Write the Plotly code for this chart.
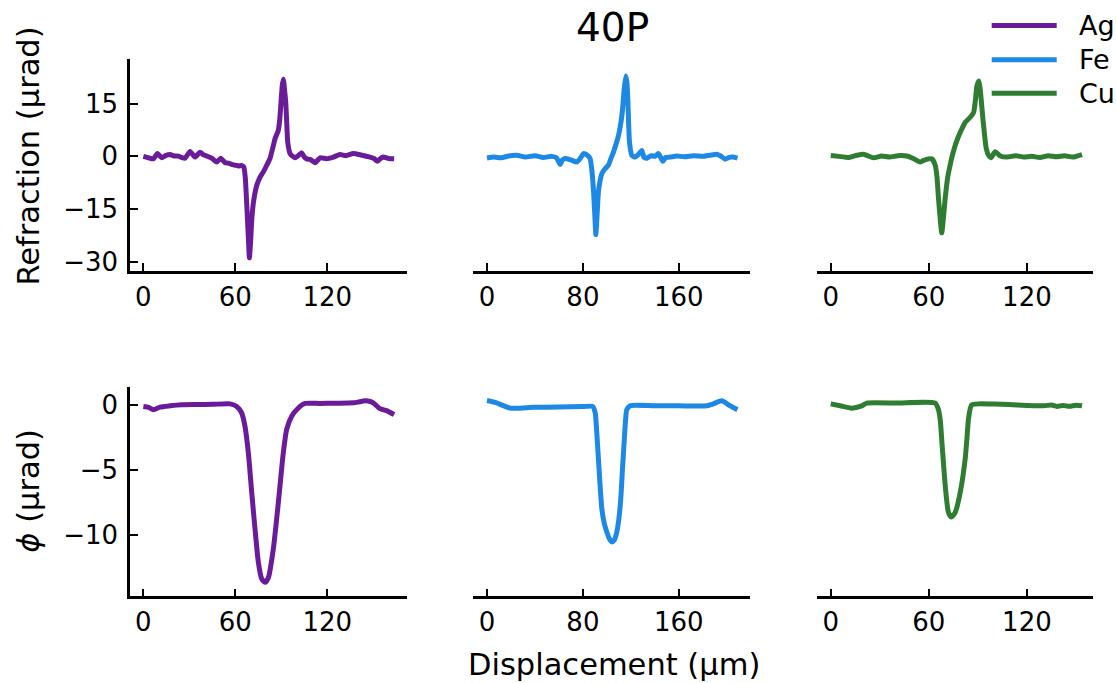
import plotly.graph_objects as go
from plotly.subplots import make_subplots

# ---------------- data ----------------
metals = ["Ag", "Fe", "Cu"]
colors = ["#6A1B9A", "#1E88E5", "#2E7D32"]

# Refraction (top row)
ag_ref_x = [0, 3.4, 6.6, 9.2, 12, 14.5, 17.4, 20, 22.9, 25, 27.2, 30.5, 33.7, 37, 39, 41.3, 44.6, 47.8, 50.5, 53.3,
            55.5, 57.6, 60, 62, 64, 65.5, 66.5, 67.5, 68.5, 69.2, 70, 70.8, 72, 74, 76, 78.3, 80.5, 82.6, 84.5, 85.9,
            88, 89, 89.8, 90.6, 91.3, 92.1, 92.9, 93.6, 94.2, 95.7, 97.5, 99, 101, 103.3, 105, 106.6, 109, 112, 115.3,
            119.6, 124, 128.3, 132, 137, 142, 147.9, 150.5, 152.7, 155, 156.6, 160, 163.6]
ag_ref_y = [0, -0.4, -0.7, 0.8, -0.4, 0.2, 0.5, 0.1, 0.06, -0.3, -0.5, 1.4, -0.2, 1.2, 0.5, 0.1, -0.5, -1.6, -0.5, -1.8,
            -1.9, -2.3, -2.5, -2.7, -2.6, -3.0, -6, -14, -23, -28.8, -24, -17.5, -12.5, -8.2, -6.0, -4.4, -2.5, -0.66, 2.5, 5.0,
            7.3, 10.5, 15.3, 20, 21.9, 19, 15.3, 9, 4, 0.8, 0, -0.4, 0.2, 1.0, -0.2, -0.7, -0.9, -1.8, -0.4,
            -0.66, -0.2, 0.5, 0.2, 0.8, 0.4, -0.2, -0.6, -1.4, -0.5, -0.2, -0.6, -0.7]

fe_ref_x = [0, 6, 12, 18, 25, 32, 40, 47, 54, 58, 61, 63, 65.3, 70, 75, 78, 80.5, 83, 86, 87.5, 88.9, 90, 90.8, 91.8,
            93, 94.3, 95.8, 98.5, 101.3, 103.5, 105.5, 107.5, 109.7, 111.2, 112.5, 113.5, 114.4, 115.8, 116.7, 117.5,
            118.2, 118.9, 120.8, 123.6, 126.5, 129.2, 131, 133.3, 137, 140, 143, 146.7, 149, 152.8, 158, 165, 172,
            180, 186, 191.7, 195, 198.6, 202, 205, 209]
fe_ref_y = [-0.46, -0.2, -0.4, 0.1, 0.3, -0.2, 0.2, -0.3, 0.0, -0.4, -2.3, -1.0, -0.6, -1.0, -1.6, -0.5, 0.8, 0.5, -0.6,
            -4, -10, -17, -22.2, -17, -10, -7, -4.9, -3.5, -2.5, -0.5, 1.2, 3.3, 5.9, 8.5, 11.5, 15, 19, 22.8, 21, 16.2,
            9, 4, 0.3, -0.2, 0.6, 1.7, -0.3, -0.5, 0.2, 0.0, 0.8, -1.4, -0.3, -0.2, 0.1, -0.1, 0.2,
            0.0, 0.3, 0.6, 0.1, -0.8, -0.3, -0.2, -0.5]

cu_ref_x = [0, 5, 10.8, 15, 20, 26.1, 31, 36, 41, 46.5, 50.5, 54.7, 58, 61.8, 63.9, 65, 65.9, 67, 67.9, 69, 70, 71.5,
            73, 74.5, 76.1, 78, 80.2, 82.5, 85.3, 87.4, 88.5, 89.4, 90.6, 91.3, 92, 93, 93.9, 95, 96.5, 98, 100.6,
            103.7, 108, 113, 118, 123, 128, 133, 138, 143, 148, 153.7]
cu_ref_y = [0.28, 0.0, -0.3, 0.2, 0.6, -0.4, 0.1, -0.2, 0.2, 0.1, -0.6, -1.6, -0.9, -0.7, -2.5, -6, -11.9, -18, -21.7,
            -17, -11.9, -6, -2.5, 0.5, 3.1, 5.5, 7.8, 9.8, 11.1, 12.5, 16, 20, 21.4, 19.5, 16.2, 11, 6.9, 2.5, 0.3,
            -0.4, 1.3, 0.1, -0.2, 0.2, -0.2, 0.0, -0.3, 0.2, -0.1, 0.2, -0.2, 0.5]

# Phase (bottom row)
ag_phi_x = [0, 3.5, 6.6, 10.9, 17.4, 25, 35, 45, 56.6, 60.9, 64.2, 66.3, 68.5, 70.7, 72.8, 75, 77.2, 79.4, 81.6, 84.8,
            88.1, 91.3, 93.5, 96.7, 101.1, 105.4, 115, 125, 137, 140, 144.6, 148, 150, 154.3, 158.7, 163.6]
ag_phi_y = [-0.13, -0.2, -0.38, -0.18, -0.08, 0, 0.02, 0.03, 0.07, -0.13, -0.64, -1.66, -3.7, -6.75, -9.5, -12.1,
            -13.4, -13.67, -13.3, -11.1, -7.5, -3.7, -1.9, -0.9, -0.25, 0.1, 0.1, 0.12, 0.15, 0.2, 0.3, 0.25, 0.15,
            -0.3, -0.45, -0.76]

fe_phi_x = [0, 6.9, 19.4, 38.9, 60, 80, 88.3, 90.3, 91.5, 93, 95.8, 98, 100, 102, 104.2, 106.3, 108.3, 110, 111.6,
            113, 114.4, 115.6, 116.6, 119.4, 140, 160, 183.3, 188.9, 195.8, 202.8, 208.9]
fe_phi_y = [0.33, 0.18, -0.26, -0.2, -0.17, -0.14, -0.13, -0.64, -2.0, -4.2, -8.0, -9.2, -9.8, -10.3, -10.56, -10.4,
            -9.8, -8.8, -7.25, -5.0, -2.9, -1.2, -0.38, -0.08, -0.08, -0.08, -0.08, 0.07, 0.3, -0.08, -0.38]

cu_phi_x = [0, 5.7, 12.8, 19, 22, 40, 63.9, 65.9, 67, 68, 69, 70, 72, 73.7, 76.1, 79.2, 82.2, 83.3, 84.3, 86.3, 100,
            130.2, 135, 138.3, 142, 146, 150, 153.7]
cu_phi_y = [0.07, -0.08, -0.26, -0.08, 0.13, 0.13, 0.13, -0.38, -1.2, -2.9, -4.6, -6.2, -8.3, -8.65, -8.3, -6.75,
            -4.2, -2.6, -1.05, 0.0, 0.05, -0.08, -0.02, -0.13, -0.05, -0.12, -0.03, -0.08]

ref_series = [(ag_ref_x, ag_ref_y), (fe_ref_x, fe_ref_y), (cu_ref_x, cu_ref_y)]
phi_series = [(ag_phi_x, ag_phi_y), (fe_phi_x, fe_phi_y), (cu_phi_x, cu_phi_y)]
for sx, sy in ref_series + phi_series:
    assert len(sx) == len(sy), (len(sx), len(sy))

x_tickvals = [[0, 60, 120], [0, 80, 160], [0, 60, 120]]
x_ranges = [[-8.7, 171.8], [-11.4, 219.4], [-8.6, 160.6]]
ref_ticks = [-30, -15, 0, 15]
phi_ticks = [-10, -5, 0]
ref_range = [-32.5, 27.5]
phi_range = [-14.76, 1.4]

title_text = "40P"
ref_label = "Refraction (μrad)"
phi_label = "<i>ϕ</i> (μrad)"
x_label = "Displacement (μm)"

# ---------------- figure ----------------
W, H = 1116, 683
FONT = "DejaVu Sans"
LW = 5
fig = make_subplots(rows=2, cols=3)

for c in range(3):
    fig.add_trace(go.Scatter(x=ref_series[c][0], y=ref_series[c][1], mode="lines",
                             line=dict(color=colors[c], width=LW, shape="spline", smoothing=0.5),
                             name=metals[c], showlegend=False),
                  row=1, col=c + 1)
    fig.add_trace(go.Scatter(x=phi_series[c][0], y=phi_series[c][1], mode="lines",
                             line=dict(color=colors[c], width=LW, shape="spline", smoothing=0.6),
                             name=metals[c], showlegend=False),
                  row=2, col=c + 1)

px_x = [(130, 406.7), (473.3, 750), (816.7, 1093.3)]
px_y = [(60, 273.3), (390, 601.7)]

axis_common = dict(showline=True, linecolor="black", linewidth=2.5, ticks="inside", ticklen=8,
                   tickwidth=2, tickcolor="black", showgrid=False, zeroline=False,
                   tickfont=dict(family=FONT, size=26, color="black"))

for r in range(2):
    for c in range(3):
        dx = [px_x[c][0] / W, px_x[c][1] / W]
        dy = [1 - px_y[r][1] / H, 1 - px_y[r][0] / H]
        fig.update_xaxes(domain=dx, range=x_ranges[c], tickvals=x_tickvals[c], ticklabelstandoff=1,
                         **axis_common, row=r + 1, col=c + 1)
        yr = ref_range if r == 0 else phi_range
        yt = ref_ticks if r == 0 else phi_ticks
        if c == 0:
            fig.update_yaxes(domain=dy, range=yr, tickvals=yt, ticklabelstandoff=4,
                             **axis_common, row=r + 1, col=c + 1)
        else:
            fig.update_yaxes(domain=dy, range=yr, visible=False, row=r + 1, col=c + 1)

annos = [
    dict(text=title_text, x=612.5 / W, y=1 - 28 / H, font=dict(size=39)),
    dict(text=ref_label, x=29 / W, y=1 - 158 / H, textangle=-90, font=dict(size=30.5)),
    dict(text=phi_label, x=29 / W, y=1 - 495 / H, textangle=-90, font=dict(size=30.5)),
    dict(text=x_label, x=614 / W, y=1 - 670 / H, font=dict(size=30.5)),
]
for a in annos:
    a.update(xref="paper", yref="paper", showarrow=False, xanchor="center", yanchor="middle")
    a["font"].update(family=FONT, color="black")
    fig.add_annotation(**a)

# legend (drawn manually to match matplotlib-style long handles)
leg_y = [25.7, 60.3, 94]
for i, m in enumerate(metals):
    yy = 1 - leg_y[i] / H
    fig.add_shape(type="line", xref="paper", yref="paper", x0=991.7 / W, x1=1056.7 / W, y0=yy, y1=yy,
                  line=dict(color=colors[i], width=LW))
    fig.add_annotation(text=m, xref="paper", yref="paper", x=1076.7 / W, y=yy, xanchor="left",
                       yanchor="middle", showarrow=False, font=dict(family=FONT, size=27, color="black"))

fig.update_layout(width=W, height=H, margin=dict(l=0, r=0, t=0, b=0), plot_bgcolor="white",
                  paper_bgcolor="white", showlegend=False, font=dict(family=FONT, color="black"))

fig.write_html("out.html")
